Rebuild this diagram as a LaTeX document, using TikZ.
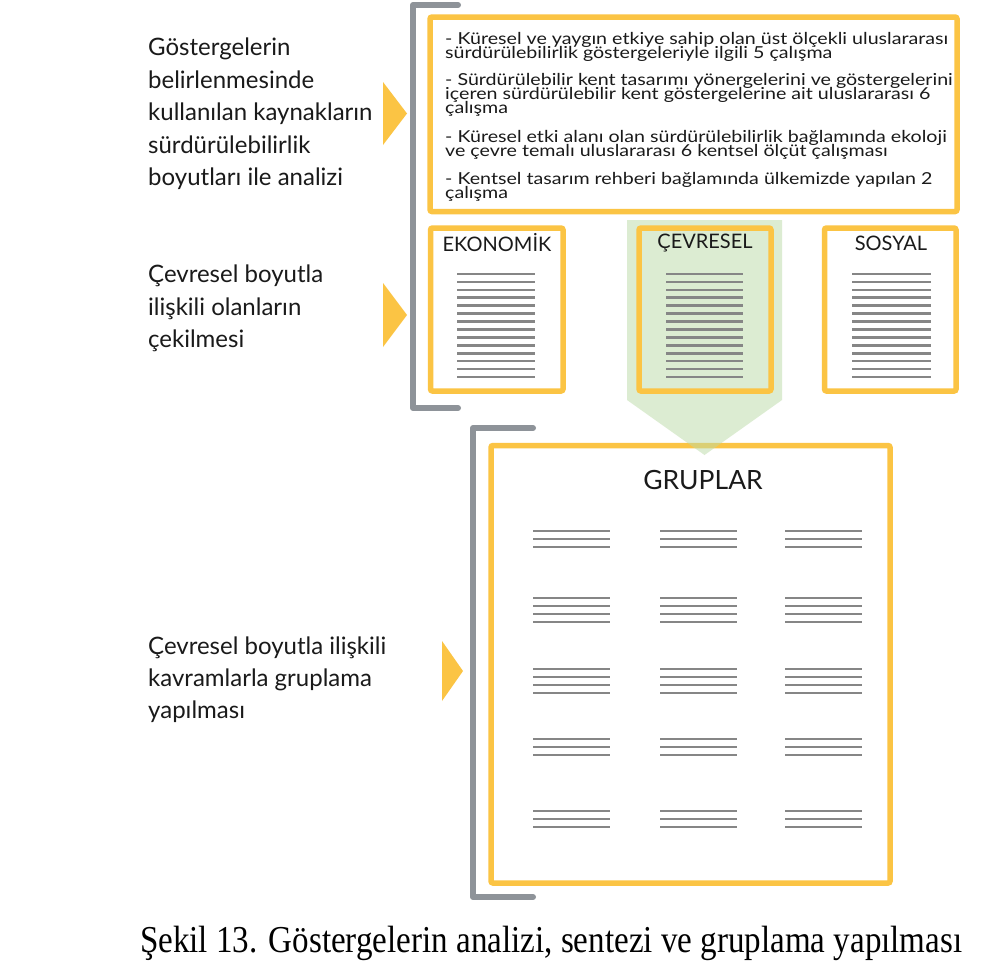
\documentclass[tikz,border=0pt]{standalone}
\usepackage{fontspec}
\usepackage{graphicx}
\setmainfont{Lato}
\newfontfamily\capfont{Liberation Serif}
\definecolor{yel}{HTML}{FBC444}
\definecolor{brk}{HTML}{8E9399}
\definecolor{lin}{HTML}{868686}
\definecolor{grn}{HTML}{BBDBA7}
\definecolor{ink}{HTML}{1A1A1A}
\tikzset{
  bracket/.style={draw=brk, line width=6, line cap=round, line join=round},
  ybox/.style={draw=yel, line width=5.5, rounded corners=2, inner sep=0, fill=white},
  lbl/.style={anchor=base west, inner sep=0, text=ink, font=\fontsize{24}{28}\selectfont},
  src/.style={anchor=base west, inner sep=0, text=ink, text height=9.5, text depth=2.5, font=\fontsize{16.5}{17}\selectfont},
  head/.style={inner sep=0, text=ink, font=\fontsize{20}{22}\selectfont},
  rule/.style={draw=lin, line width=2.6},
  pointer/.style={fill=yel}
}
\newcommand\wide[1]{\scalebox{1.19}[1]{#1}}
\newcommand\linestack[4]{% x1 x2 y0 n
  \foreach \k in {1,...,#4}{\draw[rule] (#1,{#3+(\k-1)*7.92}) -- (#2,{#3+(\k-1)*7.92});}}
\newcommand\grpstack[3]{% x1 y0 n
  \foreach \k in {1,...,#3}{\draw[rule] (#1,{#2+(\k-1)*8}) -- ({#1+77},{#2+(\k-1)*8});}}
\begin{document}
\begin{tikzpicture}[x=1pt,y=-1pt]
\useasboundingbox (0,0) rectangle (981,967);
\fill[white] (0,0) rectangle (981,967);

% brackets
\coordinate (b1a) at (458,5);   \coordinate (b1b) at (413,5);
\coordinate (b1c) at (413,408); \coordinate (b1d) at (458,408);
\draw[bracket] (b1a) -- (b1b) -- (b1c) -- (b1d);
\coordinate (b2a) at (533,428); \coordinate (b2b) at (473,428);
\coordinate (b2c) at (473,897); \coordinate (b2d) at (533,897);
\draw[bracket] (b2a) -- (b2b) -- (b2c) -- (b2d);

% pointers
\fill[pointer] (383,82) -- (407,113.5) -- (383,145) -- cycle;
\fill[pointer] (383,283) -- (407,315) -- (383,347) -- cycle;
\fill[pointer] (442,641) -- (463,671) -- (442,701) -- cycle;

% left labels
\foreach \t [count=\i] in {Göstergelerin,belirlenmesinde,kullanılan kaynakların,sürdürülebilirlik,boyutları ile analizi}
  \node[lbl] (la\i) at (148,{55.5+(\i-1)*32.5}) {\t};
\foreach \t [count=\i] in {Çevresel boyutla,ilişkili olanların,çekilmesi}
  \node[lbl] (lb\i) at (148,{282.5+(\i-1)*32.5}) {\t};
\foreach \t [count=\i] in {Çevresel boyutla ilişkili,kavramlarla gruplama,yapılması}
  \node[lbl] (lc\i) at (148,{654+(\i-1)*32}) {\t};

% top source box
\node[ybox, minimum width=527, minimum height=194.5] (srcbox) at (693.5,114.25) {};
\node[src] (s1) at (445,44) {\wide{- Küresel ve yaygın etkiye sahip olan üst ölçekli uluslararası}};
\node[src] (s2) at (445,58) {\wide{sürdürülebilirlik göstergeleriyle ilgili 5 çalışma}};
\node[src] (s3) at (445,85) {\wide{- Sürdürülebilir kent tasarımı yönergelerini ve göstergelerini}};
\node[src] (s4) at (445,99) {\wide{içeren sürdürülebilir kent göstergelerine ait uluslararası 6}};
\node[src] (s5) at (445,113) {\wide{çalışma}};
\node[src] (s6) at (445,142) {\wide{- Küresel etki alanı olan sürdürülebilirlik bağlamında ekoloji}};
\node[src] (s7) at (445,156) {\wide{ve çevre temalı uluslararası 6 kentsel ölçüt çalışması}};
\node[src] (s8) at (445,184) {\wide{- Kentsel tasarım rehberi bağlamında ülkemizde yapılan 2}};
\node[src] (s9) at (445,198) {\wide{çalışma}};

% groups box
\node[ybox, minimum width=399, minimum height=437.5] (grpbox) at (690.5,664.25) {};
\node[head, font=\fontsize{26.5}{30}\selectfont] (grp) at (703,480) {GRUPLAR};
\foreach \cx in {533,660,785}{
  \grpstack{\cx}{531}{3}
  \grpstack{\cx}{598}{4}
  \grpstack{\cx}{669}{4}
  \grpstack{\cx}{739}{3}
  \grpstack{\cx}{811}{3}
}

% green selection band
\fill[grn, fill opacity=0.5] (627,220) -- (782,220) -- (782,400) -- (704.5,455) -- (627,400) -- cycle;

% dimension boxes
\node[ybox, minimum width=132.5, minimum height=163] (eko) at (496.75,309.5) {};
\node[ybox, fill=none, minimum width=132, minimum height=163] (cev) at (705,309.5) {};
\node[ybox, minimum width=131.5, minimum height=163] (sos) at (890.25,309.5) {};
\node[head] (ekot) at (497,243) {EKONOMİK};
\node[head] (cevt) at (705,243) {ÇEVRESEL};
\node[head] (sost) at (891,243) {SOSYAL};
\linestack{457}{535}{274}{14}
\linestack{666}{743}{274}{14}
\linestack{852}{931}{274}{14}

% caption
\node[anchor=base west, inner sep=0] (cap) at (140,952)
  {\resizebox{822pt}{\height}{\capfont\fontsize{38}{42}\selectfont Şekil 13. Göstergelerin analizi, sentezi ve gruplama yapılması}};
\end{tikzpicture}
\end{document}
